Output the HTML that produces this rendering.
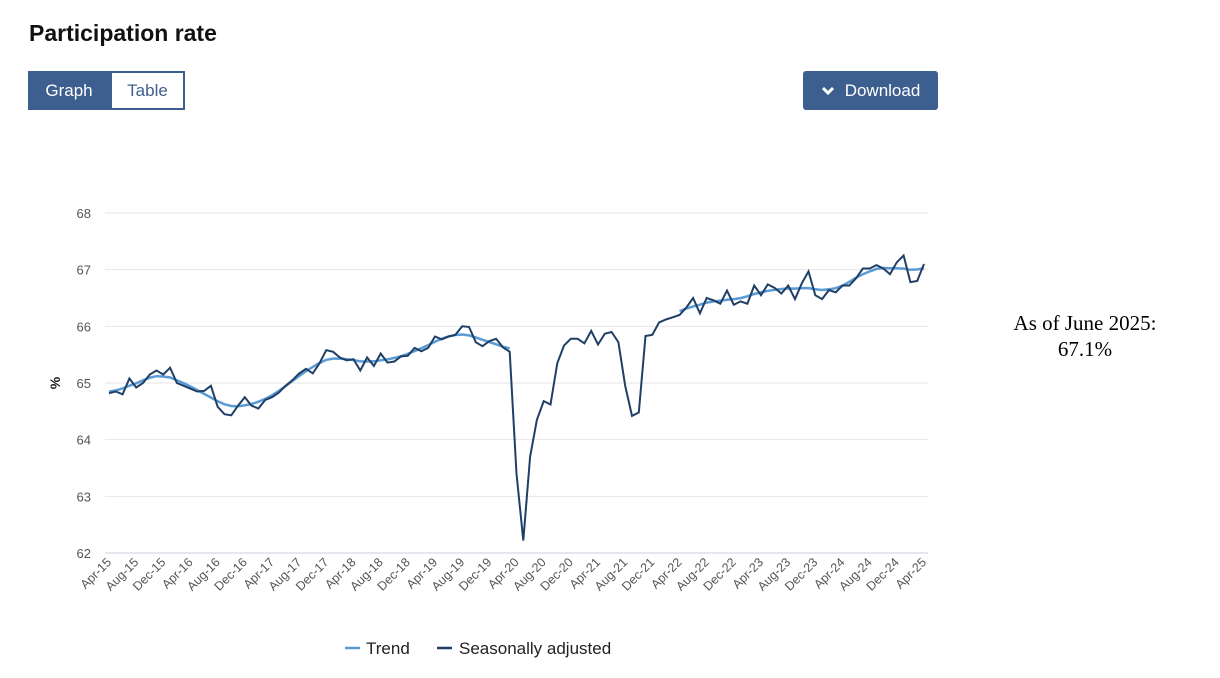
<!DOCTYPE html>
<html><head><meta charset="utf-8"><style>
body{margin:0;width:1220px;height:678px;background:#fff;font-family:"Liberation Sans",sans-serif;overflow:hidden;position:relative}
h1{position:absolute;left:29px;top:20px;margin:0;font-size:23px;font-weight:bold;color:#111}
.btn{position:absolute;top:71px;height:39px;box-sizing:border-box;font-size:17px;display:flex;align-items:center;justify-content:center}
.note{position:absolute;left:990px;top:310px;width:190px;text-align:center;font-family:"Liberation Serif",serif;font-size:21px;line-height:26px;color:#000}
</style></head><body>
<h1>Participation rate</h1>
<div class="btn" style="left:28px;width:82px;background:#3d5f8f;color:#fff;border:2px solid #3d5f8f">Graph</div>
<div class="btn" style="left:110px;width:75px;background:#fff;color:#3d5f8f;border:2px solid #3d5f8f">Table</div>
<div class="btn" style="left:803px;width:135px;background:#3d5f8f;color:#fff;border-radius:3px;">
<svg width="14" height="10" style="margin-right:10px"><path d="M2 2 L7 7 L12 2" stroke="#fff" stroke-width="3" fill="none"/></svg>Download</div>
<div class="note">As of June 2025:<br>67.1%</div>
<svg id="c" width="1220" height="678" style="position:absolute;left:0;top:0"></svg>
<script>
var sa=[64.82,64.85,64.80,65.08,64.92,65.0,65.15,65.22,65.15,65.27,65.0,64.95,64.9,64.85,64.86,64.95,64.58,64.45,64.43,64.6,64.75,64.6,64.55,64.7,64.75,64.83,64.95,65.05,65.17,65.25,65.17,65.35,65.58,65.55,65.45,65.4,65.42,65.22,65.45,65.3,65.52,65.36,65.38,65.47,65.48,65.62,65.56,65.62,65.82,65.77,65.82,65.85,66.0,65.99,65.72,65.65,65.74,65.78,65.63,65.55,63.4,62.22,63.7,64.35,64.68,64.62,65.35,65.66,65.78,65.78,65.7,65.92,65.68,65.87,65.9,65.72,64.95,64.42,64.48,65.83,65.85,66.07,66.12,66.16,66.2,66.33,66.5,66.23,66.5,66.46,66.4,66.63,66.38,66.44,66.4,66.72,66.55,66.74,66.68,66.58,66.72,66.48,66.76,66.97,66.55,66.48,66.64,66.6,66.72,66.72,66.85,67.02,67.02,67.08,67.02,66.92,67.13,67.25,66.78,66.8,67.1];
var n=sa.length,x0=109,x1=924;
function X(i){return x0+i*(x1-x0)/(n-1)}
function Y(v){return 553-(v-62)*56.67}
var s='';
for(var v=62;v<=68;v++){s+='<line x1="105" x2="928" y1="'+Y(v)+'" y2="'+Y(v)+'" stroke="'+(v==62?'#ccd':'#e6e6e6')+'" stroke-width="1"/>';
s+='<text x="91" y="'+(Y(v)+5)+'" text-anchor="end" font-size="13" fill="#555">'+v+'</text>';}
s+='<text x="60" y="383" transform="rotate(-90 60 383)" text-anchor="middle" font-size="14" font-weight="bold" fill="#222">%</text>';
var mn=['Apr','Aug','Dec'];
for(var k=0;k<31;k++){var yr=15+Math.floor(k/3)+0;var m=mn[k%3];var yy=15+Math.floor((k)/3);
var lx=X(k*4)+3;s+='<text x="'+lx+'" y="563" transform="rotate(-45 '+lx+' 563)" text-anchor="end" font-size="12.5" fill="#555">'+m+'-'+yy+'</text>';}
function sm(a,b){var p=[];for(var i=a;i<=b;i++){var t=0,c=0;for(var j=-4;j<=4;j++){var q=i+j;if(q<a)q=a;if(q>b)q=b;var w=5-Math.abs(j);t+=sa[q]*w;c+=w;}p.push(X(i).toFixed(1)+','+Y(t/c).toFixed(1));}return p.join(' ');}
s+='<polyline points="'+sm(0,59)+'" fill="none" stroke="#5b9bd5" stroke-width="2.5"/>';
s+='<polyline points="'+sm(84,n-1)+'" fill="none" stroke="#5b9bd5" stroke-width="2.5"/>';
var p=[];for(var i=0;i<n;i++)p.push(X(i).toFixed(1)+','+Y(sa[i]).toFixed(1));
s+='<polyline points="'+p.join(' ')+'" fill="none" stroke="#1f3f66" stroke-width="2"/>';
s+='<line x1="345" x2="360" y1="648" y2="648" stroke="#5b9bd5" stroke-width="2.5"/><text x="366" y="654" font-size="17" fill="#222">Trend</text>';
s+='<line x1="437" x2="452" y1="648" y2="648" stroke="#1f3f66" stroke-width="2.5"/><text x="459" y="654" font-size="17" fill="#222">Seasonally adjusted</text>';
document.getElementById('c').innerHTML=s;
</script>
</body></html>
